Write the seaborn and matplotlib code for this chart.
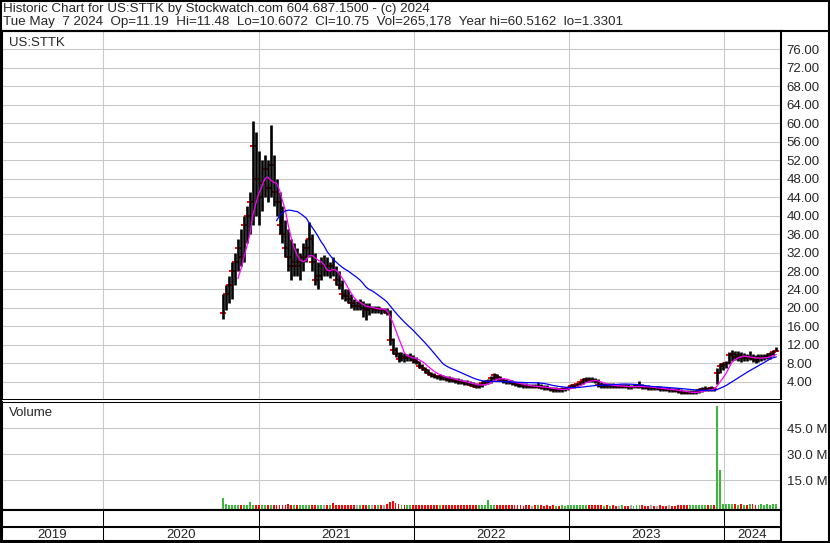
import numpy as np
import pandas as pd
import matplotlib
matplotlib.use("Agg")
import matplotlib.pyplot as plt
from matplotlib.lines import Line2D
from matplotlib.patches import Rectangle
import seaborn as sns

W, H = 830, 543

# weekly bars, first week of trading up to May 2024
start_week = "2020-10-09"
high = [23, 25, 27, 30, 32, 35, 37, 40, 42, 45,
        60.5, 58, 54, 52, 53, 52, 59.6, 53, 48, 45,
        42, 39, 37, 35, 34, 33, 32, 34, 35, 38.6,
        36, 32, 30, 31, 31.5, 31, 30, 31, 29, 28,
        26, 24, 24, 23, 22, 21.5, 22, 21.5, 21, 21,
        20.5, 20.5, 20.5, 20, 20, 20, 19.5, 13.5, 11.5, 10.5,
        10.5, 10.2, 10, 10.3, 9.8, 9.5, 8.5, 7.8, 7.3, 6.8,
        6.2, 5.9, 5.6, 5.8, 5.5, 5.3, 5.2, 5, 4.9, 4.8,
        4.6, 4.5, 4.4, 4.2, 4, 3.8, 3.7, 4.2, 4.5, 4.6,
        5.2, 6, 5.8, 5.2, 4.8, 4.6, 4.5, 4.4, 4, 3.9,
        3.8, 3.8, 3.7, 3.6, 3.6, 3.5, 4.0, 3.5, 3.4, 3.3,
        3.0, 2.9, 2.9, 2.8, 2.9, 3.0, 3.1, 3.5, 3.6, 3.8,
        4.3, 4.8, 5.0, 5.1, 5.0, 4.9, 4.6, 3.9, 3.8, 3.7,
        3.8, 3.7, 3.6, 3.5, 3.6, 3.5, 3.5, 3.4, 3.5, 3.6,
        4.3, 3.5, 3.3, 3.3, 3.2, 3.2, 3.1, 3.1, 3.0, 2.9,
        2.9, 2.8, 2.8, 2.6, 2.4, 2.3, 2.2, 2.2, 2.3, 2.4,
        2.7, 2.9, 3.1, 3.0, 3.1, 3.0, 7.0, 8.0, 8.3, 8.5,
        10.5, 11.0, 10.6, 10.8, 10.5, 10.2, 10.0, 10.7, 10.0, 9.8,
        10.0, 10.1, 10.0, 10.2, 10.4, 11.0, 11.48]
low = [17.6, 19.5, 21, 22, 25, 28, 29, 30, 34, 36,
       38, 40, 38, 41, 44, 43, 44, 42, 40, 36,
       34, 31, 28, 26, 27, 27, 26, 28, 30, 31,
       28, 25, 24, 26, 27, 27, 26.5, 27, 25, 24,
       22, 21.5, 21, 20, 19.5, 19.5, 19.5, 18, 17.5, 18.5,
       19, 19, 19, 18.8, 19, 18.5, 12, 10, 9.5, 8.3,
       8.5, 8.3, 8.5, 8.6, 8, 7.8, 7, 6.5, 6, 5.5,
       5, 4.8, 4.6, 4.5, 4.4, 4.3, 4.1, 3.9, 3.8, 3.6,
       3.5, 3.4, 3.3, 3.1, 2.9, 2.7, 2.6, 3.0, 3.4, 3.5,
       3.8, 4.5, 4.5, 4.2, 3.8, 3.6, 3.5, 3.4, 3.2, 3.0,
       2.9, 2.8, 2.7, 2.7, 2.6, 2.6, 2.6, 2.4, 2.3, 2.2,
       2.0, 1.9, 1.9, 1.8, 1.9, 2.0, 2.2, 2.6, 2.8, 3.0,
       3.3, 3.6, 4.0, 4.1, 4.0, 3.8, 2.9, 2.8, 2.8, 2.7,
       2.8, 2.8, 2.6, 2.6, 2.7, 2.6, 2.5, 2.5, 2.6, 2.7,
       2.8, 2.5, 2.4, 2.3, 2.3, 2.2, 2.2, 2.1, 2.0, 2.0,
       1.9, 1.9, 1.8, 1.6, 1.5, 1.4, 1.33, 1.4, 1.4, 1.5,
       1.7, 1.9, 2.0, 2.0, 2.1, 2.1, 3.5, 6.0, 6.5, 7.0,
       7.8, 8.5, 8.8, 8.6, 8.4, 8.6, 8.5, 8.7, 8.3, 8.1,
       8.4, 8.6, 8.8, 8.9, 9.0, 9.6, 10.61]
close = [19, 23, 25, 28, 30, 33, 31, 38, 40, 43,
         55, 48, 44, 47, 50, 46, 51, 45, 43, 38,
         36, 33, 31, 29, 30, 29, 30, 31, 33, 35,
         30, 26, 27, 29, 29, 28, 29, 28, 26, 25,
         23, 22.5, 22, 21, 20.5, 20.5, 21, 20, 19.5, 20,
         20, 19.5, 20, 19.5, 19.5, 19, 13, 11, 10, 9,
         9.5, 9.2, 9.3, 9.5, 8.8, 8.3, 7.5, 7, 6.5, 6,
         5.5, 5.3, 5, 5.2, 4.8, 4.7, 4.5, 4.4, 4.2, 4.1,
         4, 3.8, 3.6, 3.4, 3.2, 3.0, 3.1, 3.8, 4, 4.2,
         4.8, 5.5, 5, 4.5, 4.2, 4, 3.9, 3.8, 3.5, 3.4,
         3.3, 3.2, 3.1, 3.0, 3.0, 2.9, 3.0, 2.8, 2.7, 2.6,
         2.4, 2.3, 2.4, 2.3, 2.4, 2.5, 2.7, 3.1, 3.3, 3.5,
         4.0, 4.4, 4.6, 4.5, 4.4, 4.2, 3.3, 3.2, 3.3, 3.2,
         3.3, 3.2, 3.0, 3.0, 3.1, 3.0, 2.9, 2.9, 3.0, 3.1,
         3.2, 2.9, 2.8, 2.7, 2.7, 2.6, 2.6, 2.5, 2.4, 2.3,
         2.3, 2.2, 2.1, 2.0, 1.8, 1.7, 1.6, 1.7, 1.8, 1.9,
         2.2, 2.4, 2.5, 2.4, 2.6, 2.5, 6.0, 7.5, 7.8, 8.0,
         9.8, 10.0, 9.5, 9.8, 9.2, 9.3, 9.2, 9.5, 9.0, 8.8,
         9.2, 9.4, 9.5, 9.7, 10.0, 10.5, 10.75]
volume_m = [5.0, 1.2, 0.8, 0.9, 0.7, 0.8, 0.9, 0.8, 0.7, 2.6,
            1.0, 0.9, 0.8, 0.7, 0.8, 0.7, 0.9, 0.8, 0.7, 0.8,
            0.7, 0.8, 1.5, 0.8, 0.7, 0.6, 0.7, 0.8, 0.7, 0.9,
            0.8, 0.7, 0.6, 0.7, 0.8, 0.6, 0.7, 1.8, 0.7, 0.6,
            0.7, 0.6, 0.8, 0.7, 0.6, 0.7, 0.6, 0.8, 0.6, 0.7,
            0.6, 0.7, 0.8, 0.7, 0.9, 1.2, 2.6, 3.0, 2.0, 1.2,
            0.9, 0.8, 0.7, 0.6, 0.7, 0.6, 0.5, 0.6, 0.5, 0.6,
            0.5, 0.6, 0.5, 0.5, 0.6, 0.5, 0.5, 0.6, 0.5, 0.5,
            0.6, 0.5, 0.9, 0.5, 0.6, 0.5, 0.6, 0.7, 0.8, 3.5,
            1.0, 0.8, 0.6, 0.5, 0.6, 0.5, 0.5, 0.6, 0.5, 0.5,
            0.5, 0.4, 0.5, 0.5, 0.4, 0.5, 0.6, 0.5, 0.4, 0.5,
            0.4, 0.5, 0.4, 0.4, 0.5, 0.4, 0.5, 0.6, 0.5, 0.6,
            0.7, 0.8, 0.7, 0.6, 0.5, 0.6, 0.7, 0.5, 0.4, 0.5,
            0.4, 0.5, 0.4, 0.4, 0.5, 0.4, 0.4, 0.5, 0.4, 0.5,
            0.7, 0.5, 0.4, 0.4, 0.5, 0.4, 0.4, 0.5, 0.4, 0.4,
            0.5, 0.4, 0.4, 0.5, 0.6, 0.5, 0.6, 0.5, 0.6, 0.5,
            0.6, 0.7, 0.6, 0.5, 0.6, 0.6, 57.7, 21.0, 1.5, 1.2,
            1.4, 1.3, 1.1, 1.0, 1.2, 0.9, 1.0, 1.4, 1.1, 0.9,
            1.0, 1.1, 0.9, 1.2, 1.0, 1.4, 1.2]

title_line = "Historic Chart for US:STTK by Stockwatch.com 604.687.1500 - (c) 2024"
quote_line = ("Tue May  7 2024  Op=11.19  Hi=11.48  Lo=10.6072  Cl=10.75  "
              "Vol=265,178  Year hi=60.5162  lo=1.3301")
symbol = "US:STTK"
price_ticks = list(range(4, 80, 4))
vol_ticks = [15, 30, 45]
years = [2019, 2020, 2021, 2022, 2023, 2024]
x_start, x_end = pd.Timestamp("2019-05-08"), pd.Timestamp("2024-05-14")

df = pd.DataFrame({"high": high, "low": low, "close": close, "volume": volume_m})
df["date"] = pd.date_range(start_week, periods=len(df), freq="7D")
df["ma_short"] = df["close"].rolling(6).mean()
df["ma_long"] = df["close"].rolling(19).mean()
chg = df["close"].diff().fillna(1)
df["vcolor"] = np.where(chg > 0, "#3cb83c", np.where(chg < 0, "#ff0000", "#a8a8a8"))

sns.set_style("white")
plt.rcParams["font.family"] = ["Liberation Sans", "DejaVu Sans"]
plt.rcParams["font.size"] = 9

fig = plt.figure(figsize=(W / 100, H / 100), dpi=100)


def box(x0, y0, x1, y1):
    # pixel box (from top-left) -> figure fraction
    return [x0 / W, 1 - y1 / H, (x1 - x0) / W, (y1 - y0) / H]


ax = fig.add_axes(box(2, 31, 781, 399))
axv = fig.add_axes(box(2, 402, 781, 510))
axd = fig.add_axes(box(2, 510, 781, 541))

year_starts = [pd.Timestamp(f"{y}-01-01") for y in years[1:]]
grid_kw = dict(color="#c8c8c8", lw=0.75)

# --- price panel ---
ax.vlines(df["date"], df["low"], df["high"], color="black", lw=1.9, zorder=3)
ax.plot(df["date"], df["close"], ls="none", marker="_", ms=4.5, mew=1.4,
        color="red", zorder=2)
sns.lineplot(data=df, x="date", y="ma_short", color="#ff00ff", lw=0.9, ax=ax, zorder=4)
sns.lineplot(data=df, x="date", y="ma_long", color="#0000ff", lw=0.9, ax=ax, zorder=4)
ax.set_xlim(x_start, x_end)
ax.set_ylim(0.32, 79.9)
ax.set_yticks(price_ticks)
ax.set_yticklabels([f"{t:.2f}" for t in price_ticks])
ax.set_xticks(year_starts)
ax.grid(True, **grid_kw)
ax.text(7 / 779, 1 - 12 / 368, symbol, transform=ax.transAxes, va="center",
        ha="left", fontsize=9.5)

# --- volume panel ---
vbottom = -2.1
axv.bar(df["date"], df["volume"] - vbottom, bottom=vbottom, width=4.5,
        color=df["vcolor"], lw=0, zorder=3)
axv.set_xlim(x_start, x_end)
axv.set_ylim(vbottom, 60.2)
axv.set_yticks(vol_ticks)
axv.set_yticklabels([f"{t:.1f} M" for t in vol_ticks])
axv.set_xticks(year_starts)
axv.grid(True, **grid_kw)
axv.text(7 / 779, 1 - 11 / 108, "Volume", transform=axv.transAxes, va="center",
         ha="left", fontsize=9.5)

for a in (ax, axv):
    a.set_xlabel("")
    a.set_ylabel("")
    a.yaxis.tick_right()
    a.tick_params(axis="y", length=0, pad=4, labelsize=9.5)
    a.tick_params(axis="x", length=0, labelbottom=False)
    for s in a.spines.values():
        s.set_color("black")
        s.set_linewidth(1.5)
ax.spines["bottom"].set_linewidth(0.75)
axv.spines["top"].set_linewidth(0.75)

# --- date strip ---
axd.set_xlim(x_start, x_end)
axd.set_ylim(0, 1)
axd.set_xticks([])
axd.set_yticks([])
axd.axhline((541 - 527) / 31, color="black", lw=1.5)
axd.vlines(year_starts, 0, 1, color="black", lw=0.75)
for y in years:
    lo_edge = max(pd.Timestamp(f"{y}-01-01"), x_start)
    hi_edge = min(pd.Timestamp(f"{y + 1}-01-01"), x_end)
    mid = lo_edge + (hi_edge - lo_edge) / 2
    axd.text(mid, (541 - 534.5) / 31, str(y), ha="center", va="center", fontsize=9.5)
for s in axd.spines.values():
    s.set_color("black")
    s.set_linewidth(1.5)

# --- header and frame ---
fig.text(3 / W, 1 - 9 / H, title_line, ha="left", va="center", fontsize=9.6)
fig.text(3 / W, 1 - 22.5 / H, quote_line, ha="left", va="center", fontsize=9.6)
fig.add_artist(Line2D([0, 1], [1 - 31 / H, 1 - 31 / H], color="black", lw=1.5,
                      transform=fig.transFigure))
fig.add_artist(Rectangle((1 / W, 1 / H), (W - 2) / W, (H - 2) / H, fill=False,
                         ec="black", lw=1.5, transform=fig.transFigure))

fig.savefig("out.png", dpi=100)
